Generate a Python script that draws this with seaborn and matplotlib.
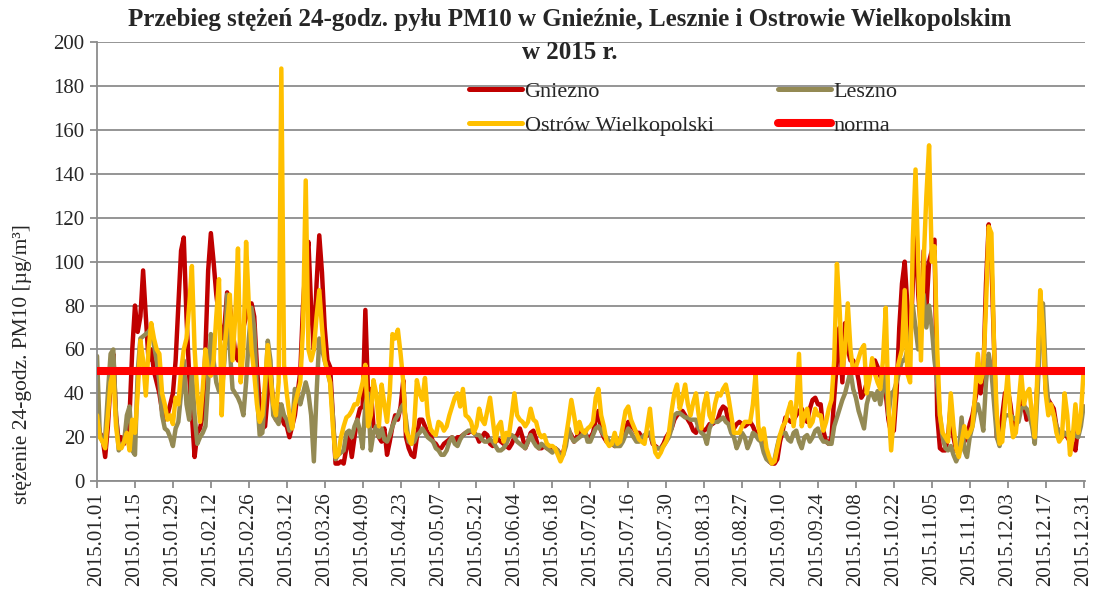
import pandas as pd
import seaborn as sns
import matplotlib.pyplot as plt
import matplotlib.dates as mdates
from matplotlib.lines import Line2D

# dni 2015 r.
dni = pd.date_range('2015-01-01', '2015-12-31', freq='D')

# stężenia 24-godz. PM10 [ug/m3]
gniezno = [
    30, 22, 20, 11, 25, 45, 58, 30, 18, 20, 17, 22, 30, 60, 80, 68, 75, 96, 75, 55,
    60, 50, 45, 40, 32, 28, 30, 35, 40, 55, 80, 105, 111, 75, 48, 30, 11, 22, 24, 30,
    60, 96, 113,
    100, 85, 75, 65, 70, 86, 80, 70, 58, 55, 65, 70, 75, 79, 81, 75, 52, 35, 24, 25,
    40, 50, 35, 28, 35, 30, 26, 25, 20, 25, 30, 40, 50, 80, 100, 109, 79, 60, 90, 112,
    95, 70, 55, 52, 30, 8,
    8, 9, 8, 15, 20, 11, 20, 28, 33, 34, 78, 40, 42, 25, 24, 20, 18, 24, 12, 18,
    25, 30, 28, 34, 46, 20, 15, 12, 11, 20, 28, 28, 25, 22, 21, 18, 17, 15, 15, 17,
    18, 19, 20, 18, 20,
    20, 21, 22, 22, 23, 22, 21, 18, 20, 22, 21, 17, 16, 18, 19, 18, 17, 16, 15, 17,
    20, 21, 24, 20, 15, 18, 22, 23, 19, 15, 15, 16, 15, 15, 15, 15, 14, 12, 13, 18,
    23, 21, 18, 20,
    23, 22, 22, 20, 20, 22, 28, 32, 23, 20, 18, 17, 17, 16, 17, 19, 21, 24, 27, 25,
    24, 22, 22, 20, 20, 21, 22, 17, 16, 15, 15, 17, 20, 22, 24, 28, 30, 31, 32, 30,
    28, 26, 23, 22,
    26, 24, 23, 24, 26, 26, 27, 28, 32, 34, 33, 27, 25, 24, 26, 27, 26, 25, 26, 27,
    25, 22, 21, 21, 18, 12, 9, 8, 8, 10, 18, 23, 29, 28, 27, 28, 30, 32, 33, 30,
    27, 33, 37, 38, 35,
    35, 23, 18, 17, 20, 38, 55, 70, 45, 72, 60, 55, 55, 52, 46, 38, 40, 45, 50, 53,
    55, 52, 48, 44, 40, 28, 22, 23, 40, 70, 90, 100, 80, 60, 90, 120, 85, 70, 105, 78,
    100, 105, 110,
    30, 15, 14, 14, 20, 35, 20, 14, 13, 16, 18, 20, 26, 30, 37, 44, 40, 48, 90, 117,
    100, 60, 20, 18, 30, 40, 42, 35, 25, 25, 30, 40, 35, 28, 30, 28, 25, 45, 82, 72,
    42, 37, 35, 33, 25, 22, 20, 22, 20, 18, 17, 14, 25, 30, 34,
]
leszno = [
    57, 22, 18, 20, 40, 58, 60, 30, 14, 16, 18, 30, 34, 14, 12, 50, 65, 66, 67, 68,
    70, 62, 55, 45, 30, 24, 23, 20, 16, 24, 27, 40, 55, 35, 28, 50, 30, 17, 20, 22,
    25, 45, 67,
    55, 45, 41, 40, 55, 85, 60, 42, 40, 38, 35, 30, 45, 65, 79, 70, 40, 21, 22, 40,
    64, 55, 30, 28, 26, 35, 30, 28, 23, 25, 42, 38, 35, 40, 45, 40, 30, 9, 40, 65,
    60, 55, 50, 45, 30, 10,
    12, 13, 14, 22, 23, 20, 25, 28, 23, 15, 35, 40, 14, 22, 25, 20, 24, 19, 18, 21,
    25, 28, 30, 33, 35, 28, 18, 17, 18, 21, 22, 24, 22, 20, 19, 18, 15, 14, 12, 12,
    14, 18, 20, 17, 16,
    19, 21, 22, 23, 23, 22, 21, 21, 19, 18, 18, 19, 18, 16, 14, 14, 15, 17, 20, 21,
    20, 18, 17, 16, 15, 18, 21, 18, 16, 15, 17, 16, 15, 14, 13, 15, 14, 11, 12, 16,
    24, 20, 18, 19,
    20, 21, 23, 18, 18, 21, 24, 25, 23, 21, 20, 18, 18, 16, 16, 16, 18, 21, 24, 22,
    20, 18, 18, 20, 21, 22, 22, 18, 15, 15, 15, 16, 18, 20, 24, 30, 31, 31, 30, 29,
    29, 28, 28, 28,
    24, 22, 21, 17, 24, 27, 27, 27, 28, 29, 27, 26, 22, 20, 15, 18, 22, 20, 15, 18,
    22, 21, 19, 18, 13, 10, 9, 8, 10, 16, 21, 22, 22, 19, 18, 22, 23, 18, 15, 20,
    21, 18, 20, 23, 24,
    20, 18, 18, 17, 17, 25, 29, 33, 37, 40, 45, 50, 42, 38, 32, 28, 24, 35, 40, 40,
    37, 41, 35, 42, 50, 30, 40, 41, 45, 50, 55, 55, 60, 65, 80, 70, 60, 75, 85, 70,
    80, 70, 55,
    45, 30, 20, 15, 14, 16, 12, 9, 12, 29, 14, 11, 20, 25, 32, 35, 30, 23, 45, 58,
    50, 35, 20, 16, 22, 30, 30, 30, 29, 28, 27, 33, 34, 33, 30, 25, 17, 40, 65, 81,
    50, 35, 34, 30, 25, 22, 20, 22, 21, 22, 20, 21, 20, 25, 34,
]
ostrow = [
    30, 20, 18, 15, 30, 45, 50, 25, 15, 15, 18, 22, 14, 28, 22, 40, 64, 55, 39, 60,
    72, 65, 60, 58, 40, 35, 28, 30, 26, 38, 35, 50, 60, 65, 80, 98, 60, 40, 27, 42,
    60, 50, 48,
    55, 75, 92, 30, 60, 72, 85, 55, 75, 106, 45, 60, 109, 80, 60, 49, 35, 27, 30, 45,
    62, 48, 35, 30, 45, 188, 53, 40, 30, 24, 35, 40, 45, 70, 137, 60, 55, 60, 75, 87,
    70, 55, 50, 45, 25, 11,
    12, 20, 25, 29, 30, 32, 35, 35, 40, 45, 53, 25, 30, 46, 40, 25, 44, 35, 27, 40,
    67, 65, 69, 58, 45, 23, 20, 17, 25, 46, 40, 37, 47, 30, 24, 22, 21, 27, 26, 23,
    25, 30, 34, 38, 40,
    34, 42, 30, 29, 27, 22, 25, 33, 28, 26, 32, 38, 28, 18, 25, 27, 18, 22, 21, 30,
    40, 30, 28, 27, 25, 27, 33, 28, 27, 22, 20, 21, 17, 16, 16, 15, 12, 9, 12, 20,
    28, 37, 30, 22,
    27, 23, 22, 24, 25, 27, 38, 42, 30, 25, 18, 16, 17, 22, 17, 18, 25, 32, 34, 28,
    25, 22, 19, 18, 17, 25, 33, 20, 13, 11, 13, 16, 18, 22, 32, 40, 44, 33, 38, 44,
    35, 30, 36, 40,
    30, 24, 35, 40, 30, 27, 35, 40, 39, 42, 44, 38, 30, 22, 22, 22, 25, 27, 27, 27,
    35, 49, 25, 19, 24, 15, 11, 8, 9, 15, 21, 25, 27, 32, 36, 25, 35, 58, 25, 30,
    33, 25, 27, 33, 30,
    30, 23, 27, 33, 37, 55, 99, 78, 50, 60, 81, 60, 50, 52, 56, 60, 62, 40, 46, 56,
    49, 45, 42, 55, 79, 35, 14, 30, 50, 55, 60, 87, 49, 45, 110, 142, 100, 55, 100, 130,
    153, 100, 107,
    60, 30, 22, 20, 18, 40, 25, 15, 11, 18, 25, 20, 22, 25, 40, 58, 45, 50, 80, 116,
    113, 60, 30, 17, 18, 35, 49, 30, 20, 22, 35, 49, 35, 40, 42, 30, 20, 50, 87, 70,
    40, 30, 35, 30, 22, 18, 20, 40, 30, 12, 20, 35, 22, 30, 50,
]
NORMA = 50

stacje = ['Gniezno', 'Leszno', 'Ostrów Wielkopolski']
kolory = {'Gniezno': '#C00000', 'Leszno': '#948A54', 'Ostrów Wielkopolski': '#FFC000'}

df = pd.DataFrame({'data': dni, 'Gniezno': gniezno, 'Leszno': leszno,
                   'Ostrów Wielkopolski': ostrow})
df = df.melt(id_vars='data', var_name='stacja', value_name='pm10')

sns.set_theme(style='white')
plt.rcParams['font.family'] = ['Liberation Serif', 'DejaVu Serif']

fig = plt.figure(figsize=(10.94, 5.94), dpi=100)
ax = fig.add_axes([0.0887, 0.190, 0.903, 0.739])

sns.lineplot(data=df, x='data', y='pm10', hue='stacja', hue_order=stacje,
             palette=kolory, lw=3.2, ax=ax, legend=False,
             solid_joinstyle='round', solid_capstyle='round')
ax.axhline(NORMA, color='#FF0000', lw=5.8, solid_capstyle='round', zorder=5)

ax.set_ylim(0, 200)
ax.set_yticks(range(0, 201, 20))
ax.set_xlim(dni[0], dni[-1] + pd.Timedelta(hours=12))
ax.set_xticks(dni[::14])
ax.xaxis.set_major_formatter(mdates.DateFormatter('%Y.%m.%d'))

ax.yaxis.grid(True, color='#8c8c8c', lw=1.3)
ax.xaxis.grid(False)
for s in ['top', 'right']:
    ax.spines[s].set_visible(False)
for s in ['left', 'bottom']:
    ax.spines[s].set_color('#8c8c8c')
    ax.spines[s].set_linewidth(1.3)

ax.tick_params(axis='x', rotation=90, labelsize=15, length=5, width=1.3,
               color='#8c8c8c', pad=3, bottom=True)
ax.tick_params(axis='y', labelsize=15, length=5, width=1.3,
               color='#8c8c8c', pad=4, left=True)
ax.set_xlabel('')
ax.set_ylabel('')

fig.text(0.021, 0.387, 'stężenie 24-godz. PM10 [µg/m³]', rotation=90,
         ha='center', va='center', fontsize=15.5)

fig.text(0.521, 0.986,
         'Przebieg stężeń 24-godz. pyłu PM10 w Gnieźnie, Lesznie i Ostrowie Wielkopolskim\nw 2015 r.',
         ha='center', va='top', fontsize=18, fontweight='bold', linespacing=1.55)

uchwyty = [
    Line2D([], [], color=kolory['Gniezno'], lw=3.6, solid_capstyle='round'),
    Line2D([], [], color=kolory['Ostrów Wielkopolski'], lw=3.6, solid_capstyle='round'),
    Line2D([], [], color=kolory['Leszno'], lw=3.6, solid_capstyle='round'),
    Line2D([], [], color='#FF0000', lw=5.8, solid_capstyle='round'),
]
etykiety = ['Gniezno', 'Ostrów Wielkopolski', 'Leszno', 'norma']
fig.legend(uchwyty, etykiety, ncol=2, loc='upper left',
           bbox_to_anchor=(0.4287, 0.863), frameon=False, fontsize=16,
           handlelength=2.4, handletextpad=0.1, columnspacing=2.9,
           labelspacing=0.62, borderpad=0, borderaxespad=0)

fig.savefig('out.png', dpi=100)
